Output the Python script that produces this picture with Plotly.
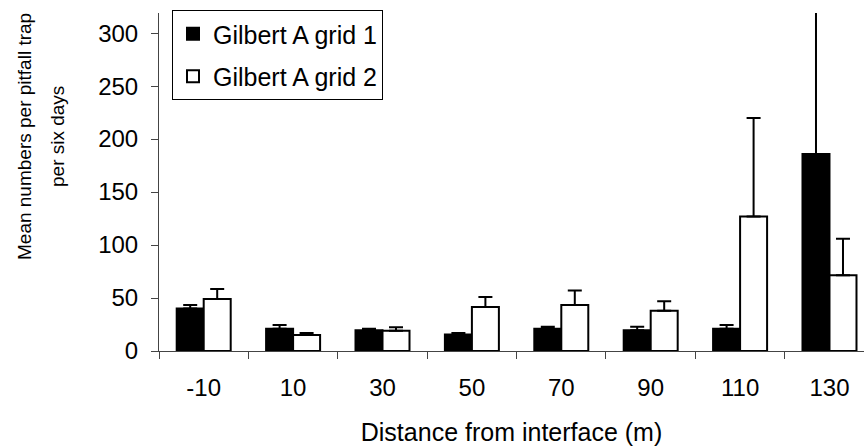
import plotly.graph_objects as go

categories = ["-10", "10", "30", "50", "70", "90", "110", "130"]
grid1_mean = [40, 21, 19.5, 15.5, 21, 19.5, 21, 186]
grid1_se = [3.5, 3.5, 1.5, 1.5, 2, 3.5, 3.5, 134]
grid2_mean = [49, 15, 19, 41.5, 43.5, 38, 127, 71.5]
grid2_se = [9.5, 2, 3.5, 9.5, 13.5, 9, 93, 34.5]
yticks = [0, 50, 100, 150, 200, 250, 300]
ytitle_lines = ["Mean numbers per pitfall trap", "per six days"]

FONT = "Arial, Liberation Sans, sans-serif"
FS = 24
L, R, T, B = 159, 0, 13, 97
W, H = 864, 448
pw, ph = W - L - R, H - T - B

fig = go.Figure()
fig.add_trace(go.Bar(
    x=categories, y=grid1_mean, name="Gilbert A grid 1", legendgroup="g1",
    marker=dict(color="black", line=dict(color="black", width=2)),
    error_y=dict(type="data", array=grid1_se, arrayminus=[0]*len(grid1_se),
                 symmetric=False, color="black", thickness=2, width=7),
))
fig.add_trace(go.Bar(
    x=categories, y=grid2_mean, name="Gilbert A grid 2", legendgroup="g2",
    marker=dict(color="white", line=dict(color="black", width=2)),
    error_y=dict(type="data", array=grid2_se, arrayminus=[0]*len(grid2_se),
                 symmetric=False, color="black", thickness=2, width=7),
))

annots = []
for line, xc in zip(ytitle_lines, [24, 57]):
    annots.append(dict(
        text=line, textangle=-90, xref="paper", yref="paper",
        x=(xc - L) / pw, y=(H - B - 137) / ph,
        xanchor="center", yanchor="middle", showarrow=False,
        font=dict(family=FONT, size=19, color="black"),
    ))

fig.update_layout(
    width=W, height=H,
    margin=dict(l=L, r=R, t=T, b=B, pad=0),
    paper_bgcolor="white", plot_bgcolor="white",
    font=dict(family=FONT, size=FS, color="black"),
    barmode="group", bargap=0.396, bargroupgap=0,
    showlegend=True,
    legend=dict(
        x=(172 - L) / pw, y=(H - B - 10) / ph, xanchor="left", yanchor="top",
        bgcolor="white", bordercolor="black", borderwidth=1,
        font=dict(family=FONT, size=25, color="black"),
        tracegroupgap=7, itemwidth=30,
    ),
    xaxis=dict(
        type="category", range=[-0.5, 7.386],
        showline=True, linecolor="#444", linewidth=1,
        ticks="outside", ticklen=7, tickcolor="#444", tickson="boundaries",
        showgrid=False, zeroline=False,
        title=dict(text="Distance from interface (m)", standoff=23,
                   font=dict(family=FONT, size=25)),
        ticklabelstandoff=15,
    ),
    yaxis=dict(
        range=[0, 319], tickvals=yticks,
        showline=True, linecolor="#444", linewidth=1,
        ticks="outside", ticklen=7, tickcolor="#444",
        showgrid=False, zeroline=False,
        ticklabelstandoff=8,
    ),
    annotations=annots,
)

fig.write_html("out.html")
